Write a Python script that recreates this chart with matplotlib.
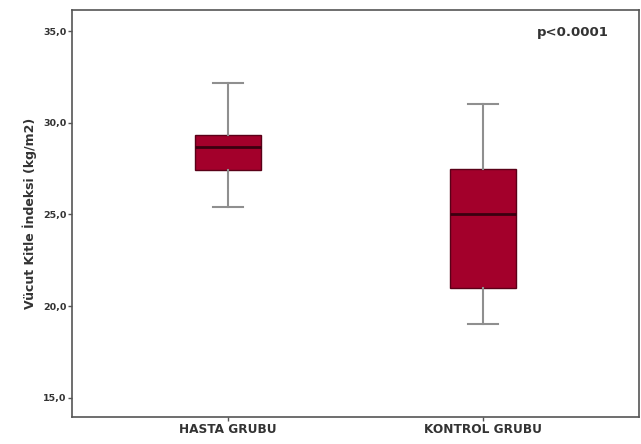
import matplotlib
matplotlib.use("Agg")
import matplotlib.pyplot as plt

# grup adlari ve kutu grafigi degerleri (gorselden okundu)
groups = ["HASTA GRUBU", "KONTROL GRUBU"]
whislo = [25.4, 19.0]
q1 = [27.4, 21.0]
med = [28.7, 25.0]
q3 = [29.35, 27.45]
whishi = [32.15, 31.0]
yticks = [15.0, 20.0, 25.0, 30.0, 35.0]
ylabel = "Vücut Kitle İndeksi (kg/m2)"
p_text = "p<0.0001"

box_color = "#a3002b"

fig = plt.figure(figsize=(6.41, 4.44), dpi=100)
ax = fig.add_axes([0.1123, 0.0608, 0.8847, 0.9167])

stats = []
for i in range(len(groups)):
    stats.append({"label": groups[i], "whislo": whislo[i], "q1": q1[i],
                  "med": med[i], "q3": q3[i], "whishi": whishi[i], "fliers": []})

ax.bxp(stats, positions=[1, 2], widths=0.26, patch_artist=True, showfliers=False,
       boxprops=dict(facecolor=box_color, edgecolor="#5a0018", linewidth=1.0),
       medianprops=dict(color="#3a0010", linewidth=2.0),
       whiskerprops=dict(color="#8f8f8f", linewidth=1.5),
       capprops=dict(color="#8f8f8f", linewidth=1.5),
       capwidths=0.12)

ax.set_xlim(0.388, 2.612)
ax.set_ylim(13.95, 36.15)
ax.set_yticks(yticks)
ax.set_yticklabels([("%.1f" % v).replace(".", ",") for v in yticks],
                   fontsize=6.8, fontweight="bold", color="#333333")
ax.set_xticks([1, 2])
ax.set_xticklabels(groups, fontsize=8.7, fontweight="bold", color="#333333")
ax.tick_params(axis="both", length=3, width=1, color="#555555", pad=1)
ax.set_ylabel(ylabel, fontsize=9, fontweight="bold", color="#333333", labelpad=4)

for s in ax.spines.values():
    s.set_color("#555555")
    s.set_linewidth(1.2)

ax.text(0.947, 0.945, p_text, transform=ax.transAxes, ha="right", va="center",
        fontsize=9.5, fontweight="bold", color="#333333")

fig.savefig("out.png", dpi=100)
